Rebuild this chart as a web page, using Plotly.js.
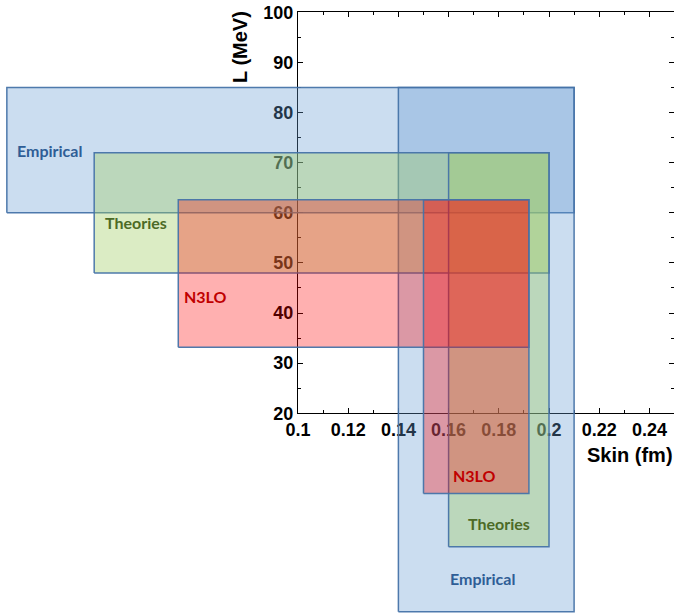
<!DOCTYPE html>
<html>
<head>
<meta charset="utf-8">
<script src="https://cdn.plot.ly/plotly-3.0.1.min.js"></script>
<style>html,body{margin:0;padding:0;background:#fff;}#chart{width:674px;height:614px;}</style>
</head>
<body>
<div id="chart"></div>
<script>
// ---- data ----
const groups = ['Empirical', 'Theories', 'N3LO'];
// neutron-skin range (fm) of each group
const skinLo = [0.14, 0.16, 0.15];
const skinHi = [0.21, 0.20, 0.192];
// L range (MeV) of each group
const LLo = [60, 48, 33.2];
const LHi = [85, 72, 62.6];
// how far the horizontal L-bands are drawn to the left (fm)
const bandLeft = [-0.016, 0.0188, 0.0523];
// how far the vertical skin-bands are drawn downward (MeV)
const bandBottom = [-19.6, -6.6, 4.0];
// label anchor points (fm, MeV) for the horizontal and vertical bands
const hLabelSkin = [0.0008, 0.0355, 0.0633];
const hLabelL = [72.4, 58.0, 43.4];
const vLabelSkin = [0.1737, 0.18, 0.1705];
const vLabelL = [-12.9, -1.9, 7.5];
// tick labels
const xTickVals = [0.1, 0.12, 0.14, 0.16, 0.18, 0.2, 0.22, 0.24];
const xTickText = ['0.1', '0.12', '0.14', '0.16', '0.18', '0.2', '0.22', '0.24'];
const yTickVals = [20, 30, 40, 50, 60, 70, 80, 90, 100];

// ---- styles ----
const fillColors = ['rgba(102,156,210,0.34)', 'rgba(160,206,100,0.38)', 'rgba(255,0,0,0.31)'];
const labelColors = ['#2f5d96', '#4c6a26', '#c00000'];
const edge = 'rgba(70,115,168,0.95)';

const traces = [];
// invisible trace to create the visible frame subplot (x/y)
traces.push({x: [0.1], y: [20], xaxis: 'x', yaxis: 'y', mode: 'markers',
  marker: {opacity: 0}, hoverinfo: 'skip', showlegend: false});

groups.forEach((g, i) => {
  // horizontal band (L range)
  traces.push({
    x: [bandLeft[i], skinHi[i], skinHi[i], bandLeft[i], bandLeft[i]],
    y: [LLo[i], LLo[i], LHi[i], LHi[i], LLo[i]],
    xaxis: 'x2', yaxis: 'y2', mode: 'lines', fill: 'toself',
    fillcolor: fillColors[i], line: {color: edge, width: 1.5},
    hoverinfo: 'skip', showlegend: false
  });
  // vertical band (skin range)
  traces.push({
    x: [skinLo[i], skinHi[i], skinHi[i], skinLo[i], skinLo[i]],
    y: [bandBottom[i], bandBottom[i], LHi[i], LHi[i], bandBottom[i]],
    xaxis: 'x2', yaxis: 'y2', mode: 'lines', fill: 'toself',
    fillcolor: fillColors[i], line: {color: edge, width: 1.5},
    hoverinfo: 'skip', showlegend: false
  });
});

const annotations = [];
groups.forEach((g, i) => {
  const f = {family: 'Lato, sans-serif', size: 16, color: labelColors[i], weight: 700};
  annotations.push({x: hLabelSkin[i], y: hLabelL[i], xref: 'x2', yref: 'y2', text: g,
    showarrow: false, font: f, xanchor: 'center', yanchor: 'middle'});
  annotations.push({x: vLabelSkin[i], y: vLabelL[i], xref: 'x2', yref: 'y2', text: g,
    showarrow: false, font: f, xanchor: 'center', yanchor: 'middle'});
});
const titleFont = {family: 'Liberation Sans, Arial, sans-serif', size: 20, color: '#000', weight: 700};
annotations.push({x: 240 / 674, y: 1 - 47 / 614, xref: 'paper', yref: 'paper', text: 'L (MeV)',
  textangle: -90, showarrow: false, font: titleFont, xanchor: 'center', yanchor: 'middle'});
annotations.push({x: 630 / 674, y: 1 - 455 / 614, xref: 'paper', yref: 'paper', text: 'Skin (fm)',
  showarrow: false, font: titleFont, xanchor: 'center', yanchor: 'middle'});

const tickFont = {family: 'Liberation Sans, Arial, sans-serif', size: 18, color: '#000', weight: 700};
const layout = {
  width: 674, height: 614,
  margin: {l: 0, r: 0, t: 0, b: 0},
  paper_bgcolor: '#ffffff', plot_bgcolor: 'rgba(0,0,0,0)',
  showlegend: false,
  xaxis: {
    domain: [298 / 674, 1], anchor: 'y', range: [0.1, 0.2498],
    tickmode: 'array', tickvals: xTickVals, ticktext: xTickText,
    ticks: 'inside', ticklen: 5, tickwidth: 1, tickcolor: '#000',
    showline: true, linecolor: '#000', linewidth: 1, mirror: 'ticks',
    showgrid: false, zeroline: false, tickfont: tickFont,
    minor: {tickmode: 'linear', tick0: 0.1, dtick: 0.01, ticks: 'inside', ticklen: 3, tickcolor: '#000', showgrid: false}
  },
  yaxis: {
    domain: [(614 - 413.3) / 614, (614 - 12.3) / 614], anchor: 'x', range: [20, 100],
    tickmode: 'array', tickvals: yTickVals,
    ticks: 'inside', ticklen: 5, tickwidth: 1, tickcolor: '#000',
    showline: true, linecolor: '#000', linewidth: 1, mirror: 'ticks',
    showgrid: false, zeroline: false, tickfont: tickFont,
    minor: {tickmode: 'linear', tick0: 20, dtick: 5, ticks: 'inside', ticklen: 3, tickcolor: '#000', showgrid: false}
  },
  xaxis2: {domain: [0, 1], anchor: 'y2', range: [0.1 - 298 / 2510, 0.1 + 376 / 2510], visible: false, fixedrange: true},
  yaxis2: {domain: [0, 1], anchor: 'x2', range: [100 - 601.7 / 5.0125, 100 + 12.3 / 5.0125], visible: false, fixedrange: true},
  annotations: annotations
};

Plotly.newPlot('chart', traces, layout, {staticPlot: true});
</script>
</body>
</html>
